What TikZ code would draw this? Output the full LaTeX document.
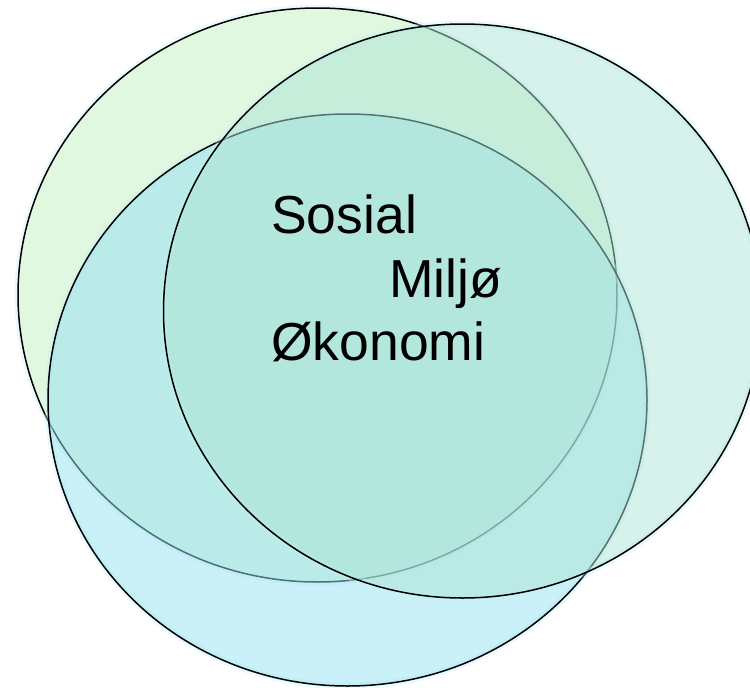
\documentclass[tikz,border=0pt]{standalone}
\usepackage{fontspec}
\setmainfont{Liberation Sans}
\definecolor{fillA}{RGB}{224,247,224}
\definecolor{fillB}{RGB}{149,225,241}
\definecolor{fillC}{RGB}{173,229,213}
\definecolor{glowc}{RGB}{200,240,248}
\tikzset{
  ring/.style={draw=black, line width=1.5pt},
  glow/.style={draw=glowc, line width=7pt, opacity=0.35},
  lbl/.style={anchor=base west, inner sep=0pt, font=\fontsize{53.5}{60}\selectfont}
}
\begin{document}
\begin{tikzpicture}[x=1pt,y=-1pt]
\useasboundingbox (0,0) rectangle (750,688);
% top-left circle
\coordinate (cA) at (317.5,295);
\coordinate (cB) at (347.5,400);
\coordinate (cC) at (462.5,311);
\draw[glow] (cA) ellipse [x radius=299.5, y radius=287];
\fill[fillA] (cA) ellipse [x radius=299.5, y radius=287];
\draw[ring] (cA) ellipse [x radius=299.5, y radius=287];
% bottom circle
\draw[glow] (cB) ellipse [x radius=299.5, y radius=286];
\fill[fillB, fill opacity=0.5] (cB) ellipse [x radius=299.5, y radius=286];
\draw[ring] (cB) ellipse [x radius=299.5, y radius=286];
% right circle
\draw[glow] (cC) ellipse [x radius=299, y radius=287];
\fill[fillC, fill opacity=0.5] (cC) ellipse [x radius=299, y radius=287];
\draw[ring] (cC) ellipse [x radius=299, y radius=287];
% labels
\node[lbl] (sosial) at (271,233) {Sosial};
\node[lbl] (miljo) at (389,297) {Miljø};
\node[lbl] (okonomi) at (271,360) {Økonomi};
\end{tikzpicture}
\end{document}
